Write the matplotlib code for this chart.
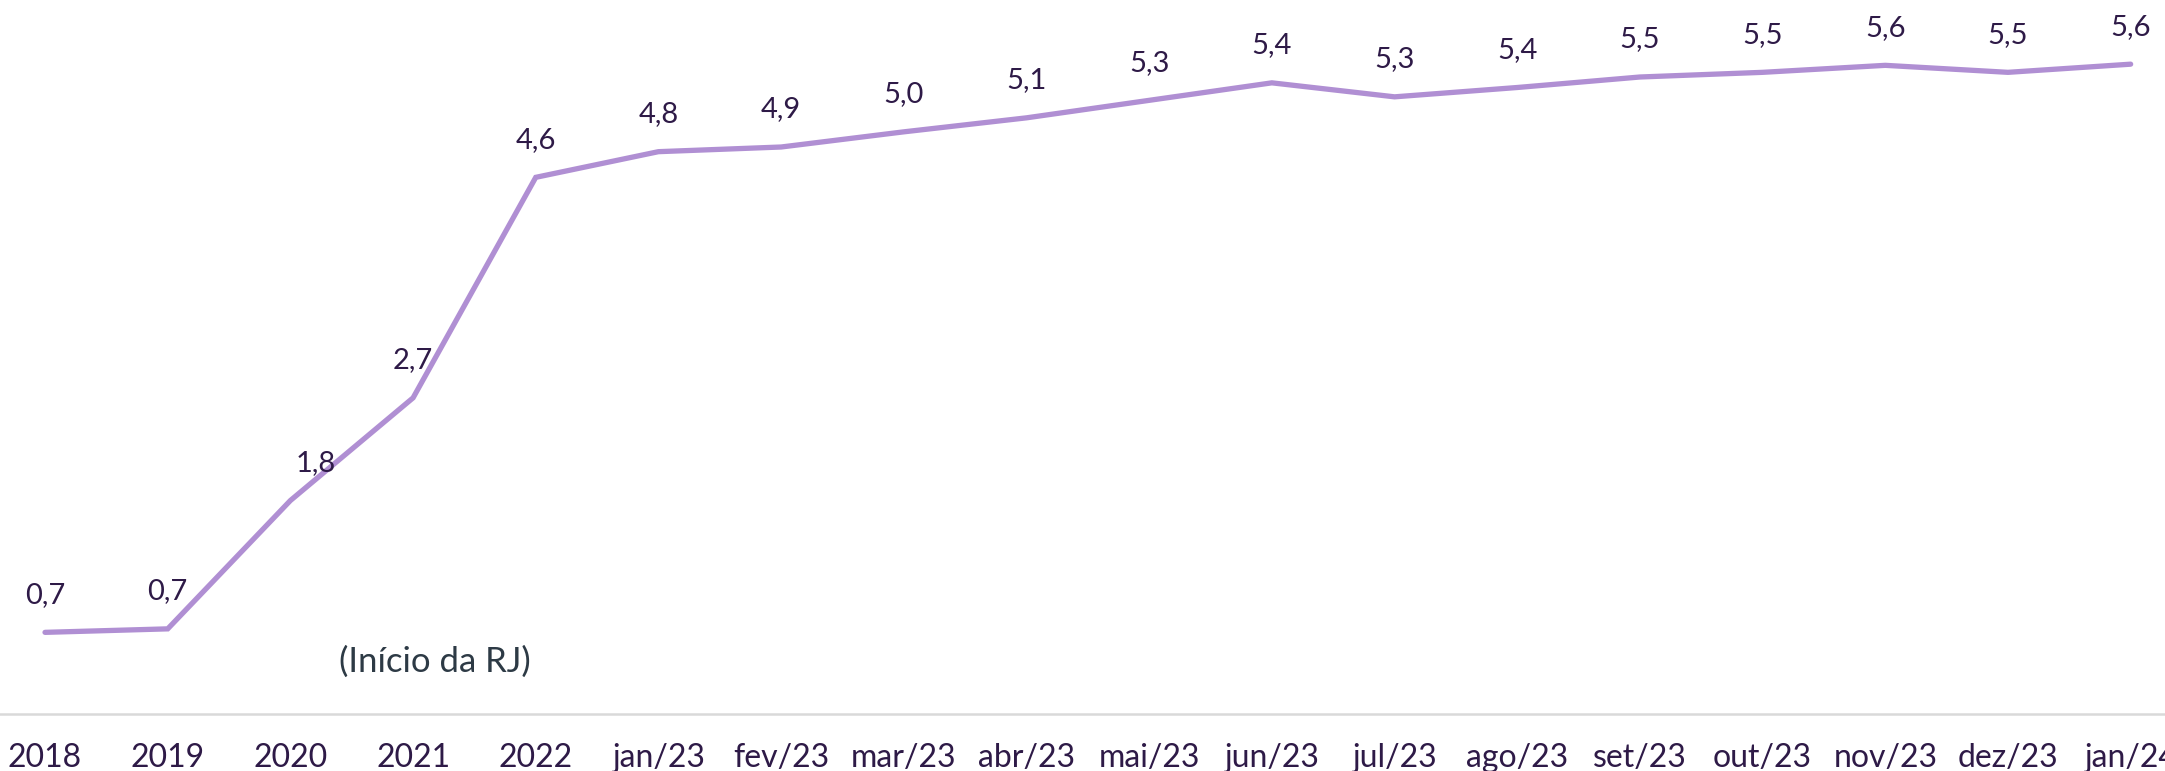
import matplotlib.pyplot as plt

# dados
periodos = ['2018', '2019', '2020', '2021', '2022', 'jan/23', 'fev/23', 'mar/23',
            'abr/23', 'mai/23', 'jun/23', 'jul/23', 'ago/23', 'set/23', 'out/23',
            'nov/23', 'dez/23', 'jan/24']
valores = [0.70, 0.73, 1.83, 2.71, 4.60, 4.82, 4.86, 4.99, 5.11, 5.26, 5.41,
           5.29, 5.37, 5.46, 5.50, 5.56, 5.50, 5.57]
nota = '(Início da RJ)'

cor_linha = '#b08fd3'
cor_texto = '#2e1a47'

plt.rcParams['font.family'] = ['Lato', 'DejaVu Sans']

fig = plt.figure(figsize=(21.65, 7.71), dpi=100)
ax = fig.add_axes([0, 0.0739, 1, 0.9261])

x = list(range(len(periodos)))
ax.plot(x, valores, color=cor_linha, lw=3.8, solid_capstyle='round', solid_joinstyle='miter')

# rotulos de dados
for i, v in enumerate(valores):
    dx = 18 if i == 2 else 0
    ax.annotate(f'{v:.1f}'.replace('.', ','), (i, v), xytext=(dx, 27),
                textcoords='offset points', ha='center', va='center',
                fontsize=21, color=cor_texto)

ax.text(3.18, 0.45, nota, ha='center', va='center', fontsize=25, color='#2d3a45')

ax.set_xlim(-0.367, 17.28)
ax.set_ylim(0, 6.12)
ax.set_xticks(x)
ax.set_xticklabels(periodos, fontsize=23, color=cor_texto)
ax.tick_params(axis='x', length=0, pad=21)
ax.set_yticks([])
for s in ['top', 'right', 'left']:
    ax.spines[s].set_visible(False)
ax.spines['bottom'].set_color('#d9d9d9')
ax.spines['bottom'].set_linewidth(1.8)

fig.savefig('out.png', dpi=100)
